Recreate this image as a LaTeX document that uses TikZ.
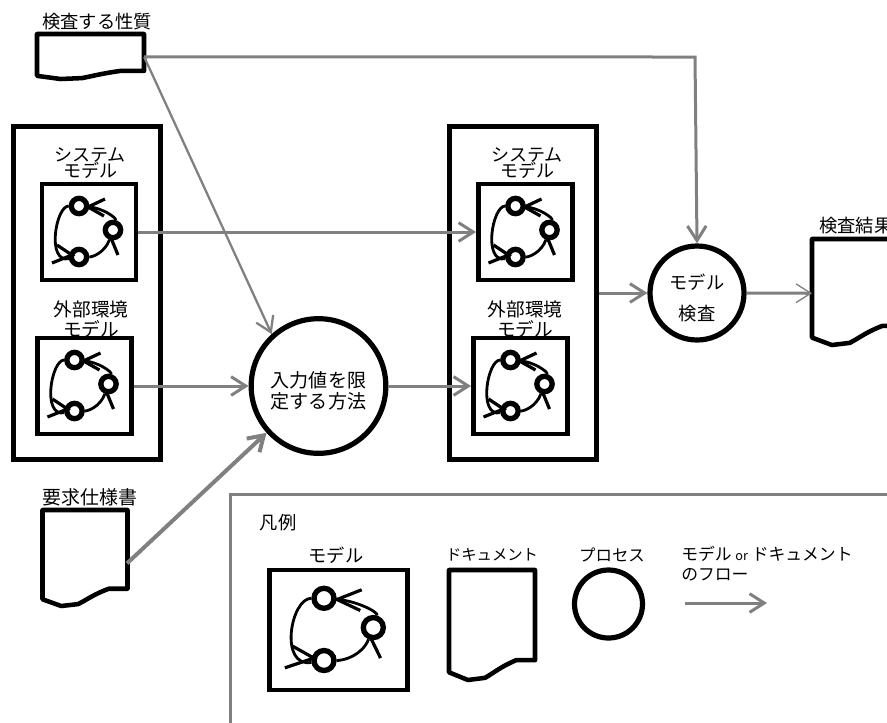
\documentclass[tikz,border=0pt]{standalone}
\usepackage{fontspec}
\usepackage{tikz}
\usetikzlibrary{calc,arrows.meta,positioning}
\usepackage{xcolor}
\newfontfamily\jpfont{Noto Sans CJK JP}
\definecolor{flowgray}{RGB}{128,128,128}
\tikzset{
  jplabel/.style={font=\jpfont\fontsize{13.7pt}{13.7pt}\selectfont,align=center,inner sep=0pt},
  groupbox/.style={draw,line width=3.9pt,minimum width=110pt,minimum height=250pt,inner sep=0pt},
  modelbox/.style={draw,fill=white,line width=3.7pt,minimum width=70.5pt,minimum height=72pt,inner sep=0pt},
  procnode/.style={circle,draw,fill=white,line width=3.9pt,inner sep=0pt,align=center},
  docbox/.style={anchor=north west,inner sep=0pt},
  statering/.style={circle,draw,fill=white,line width=4pt,inner sep=0pt,minimum size=11.5pt},
  flowline/.style={flowgray,line width=2.25pt,-{Straight Barb[length=11pt,width=14pt]}},
  docline/.pic={
    \draw[line width=3.4pt,line join=round,fill=white] (0,0) -- (1,0) -- (1,.82) -- (.78,.82)
      .. controls (.6,.88) and (.55,.92) .. (.42,.98) -- (.22,1) -- (0,.93) -- cycle;
  },
  modelicon/.pic={
    \node[statering] (-t) at (-10,-26) {};
    \node[statering] (-r) at (24,-2) {};
    \node[statering] (-b) at (-10,25) {};
    \draw[line width=2.1pt] (-b) to[out=190,in=180,looseness=1.1] (-t);
    \draw[line width=2.1pt] (-t) to[out=-5,in=75] (-r);
    \draw[line width=2.1pt] (-r) to[out=-110,in=0] (-b);
    \draw[line width=2.4pt] (16,-33) -- (-1,-25) -- (15,-16);
    \draw[line width=2.4pt] (29,23) -- (22,6);
    \draw[line width=2.4pt] (-37,31) -- (-17,23) -- (-32,13);
  }
}
\begin{document}
\begin{tikzpicture}[x=0.75pt,y=-0.75pt]
  \useasboundingbox (0,0) rectangle (887,722);
  \clip (0,0) rectangle (887,722);

  % input side
  \node[jplabel] (proplabel) at (97,22) {検査する性質};
  \node[docbox] (propdoc) at (37,34) {\rule{80pt}{0pt}\rule{0pt}{34pt}};
  \pic[xscale=107,yscale=45] at (propdoc.north west) {docline};

  \node[groupbox] (inputset) at (87,293) {};
  \node[jplabel,font=\jpfont\fontsize{13.5pt}{12.5pt}\selectfont] (sysalabel) at (90,163) {システム\\モデル};
  \node[modelbox] (sysa) at (89,232) {};
  \pic (sysaicon) at (sysa) {modelicon};
  \node[jplabel,font=\jpfont\fontsize{14pt}{15pt}\selectfont] (envalabel) at (91,319) {外部環境\\モデル};
  \node[modelbox] (enva) at (84.5,386) {};
  \pic (envaicon) at (enva) {modelicon};

  \node[jplabel,font=\jpfont\fontsize{14.2pt}{14pt}\selectfont] (reqlabel) at (90,497) {要求仕様書};
  \node[docbox,minimum width=63pt,minimum height=73pt] (reqdoc) at (42.5,510) {};
  \pic[xscale=85,yscale=96] at (reqdoc.north west) {docline};

  \node[procnode,minimum size=101pt,font=\jpfont\fontsize{14.3pt}{15.7pt}\selectfont] (mainproc) at (318.5,386) {\rule{0pt}{18.5pt}入力値を限\\定する方法};

  % output side
  \node[groupbox] (outputset) at (523,293) {};
  \node[jplabel,font=\jpfont\fontsize{13.5pt}{12.5pt}\selectfont] (sysblabel) at (527,163) {システム\\モデル};
  \node[modelbox] (sysb) at (525.5,232) {};
  \pic (sysbicon) at (sysb) {modelicon};
  \node[jplabel,font=\jpfont\fontsize{14pt}{15pt}\selectfont] (envblabel) at (525,319) {外部環境\\モデル};
  \node[modelbox] (envb) at (520.5,386) {};
  \pic (envbicon) at (envb) {modelicon};

  \node[procnode,minimum size=70.5pt,font=\jpfont\fontsize{13.7pt}{23pt}\selectfont] (checkproc) at (697,293) {\rule{0pt}{19pt}モデル\\検査};

  \node[jplabel,anchor=west] (resultlabel) at (819,226) {検査結果};
  \node[docbox,minimum width=67pt,minimum height=81pt] (resultdoc) at (812,239) {};
  \pic[xscale=90,yscale=106] at (resultdoc.north west) {docline};

  % legend
  \coordinate (legendne) at (890,494);
  \coordinate (legendnw) at (230,494);
  \coordinate (legendsw) at (230,725);
  \draw[flowgray,line width=2.25pt] (legendne) -- (legendnw) -- (legendsw);
  \node[jplabel] (legendtitle) at (278,523) {凡例};
  \node[jplabel] (modellabel) at (336,555) {モデル};
  \node[modelbox,minimum width=104pt,minimum height=90pt] (legendmodel) at (338.5,630) {};
  \pic[xscale=1.45,yscale=1.22,statering/.append style={minimum size=15pt}] (legendicon) at (legendmodel) {modelicon};
  \node[jplabel,font=\jpfont\fontsize{11.5pt}{11.5pt}\selectfont] (doclabel) at (492,555) {ドキュメント};
  \node[docbox,minimum width=64pt,minimum height=82pt] (legenddoc) at (449,570) {};
  \pic[xscale=86,yscale=110] at (legenddoc.north west) {docline};
  \node[jplabel,font=\jpfont\fontsize{12.3pt}{12.3pt}\selectfont] (proclabel) at (612,555) {プロセス};
  \node[procnode,minimum size=51pt] (legendproc) at (608.5,604) {};
  \node[jplabel,anchor=north west,align=left,font=\jpfont\fontsize{12.6pt}{15pt}\selectfont] (flowlabel) at (681,546) {モデル {\fontsize{9.5pt}{9.5pt}\selectfont or} ドキュメント\\のフロー};
  \coordinate (flowstart) at (685,603);
  \coordinate (flowend) at (767,603);
  \draw[flowline] (flowstart) -- (flowend);

  % flows
  \coordinate (propcorner) at (695,57);
  \draw[flowline] (propdoc.east) -- (propcorner) -- (checkproc.north);
  \draw[flowline,line width=1.7pt] (propdoc.east) -- (mainproc.132);
  \draw[flowline] (sysa.east) -- (sysb.west);
  \draw[flowline] (enva.east) -- (mainproc.west);
  \draw[flowline] (mainproc.east) -- (envb.west);
  \draw[flowline,line width=3pt] (reqdoc.-6) -- (mainproc.222);
  \draw[flowline] (outputset.east) -- (checkproc.west);
  \draw[flowgray,line width=2.25pt,-{Straight Barb[length=11pt,width=14pt,line width=1pt]}] (checkproc.east) -- (resultdoc.west);
\end{tikzpicture}
\end{document}
